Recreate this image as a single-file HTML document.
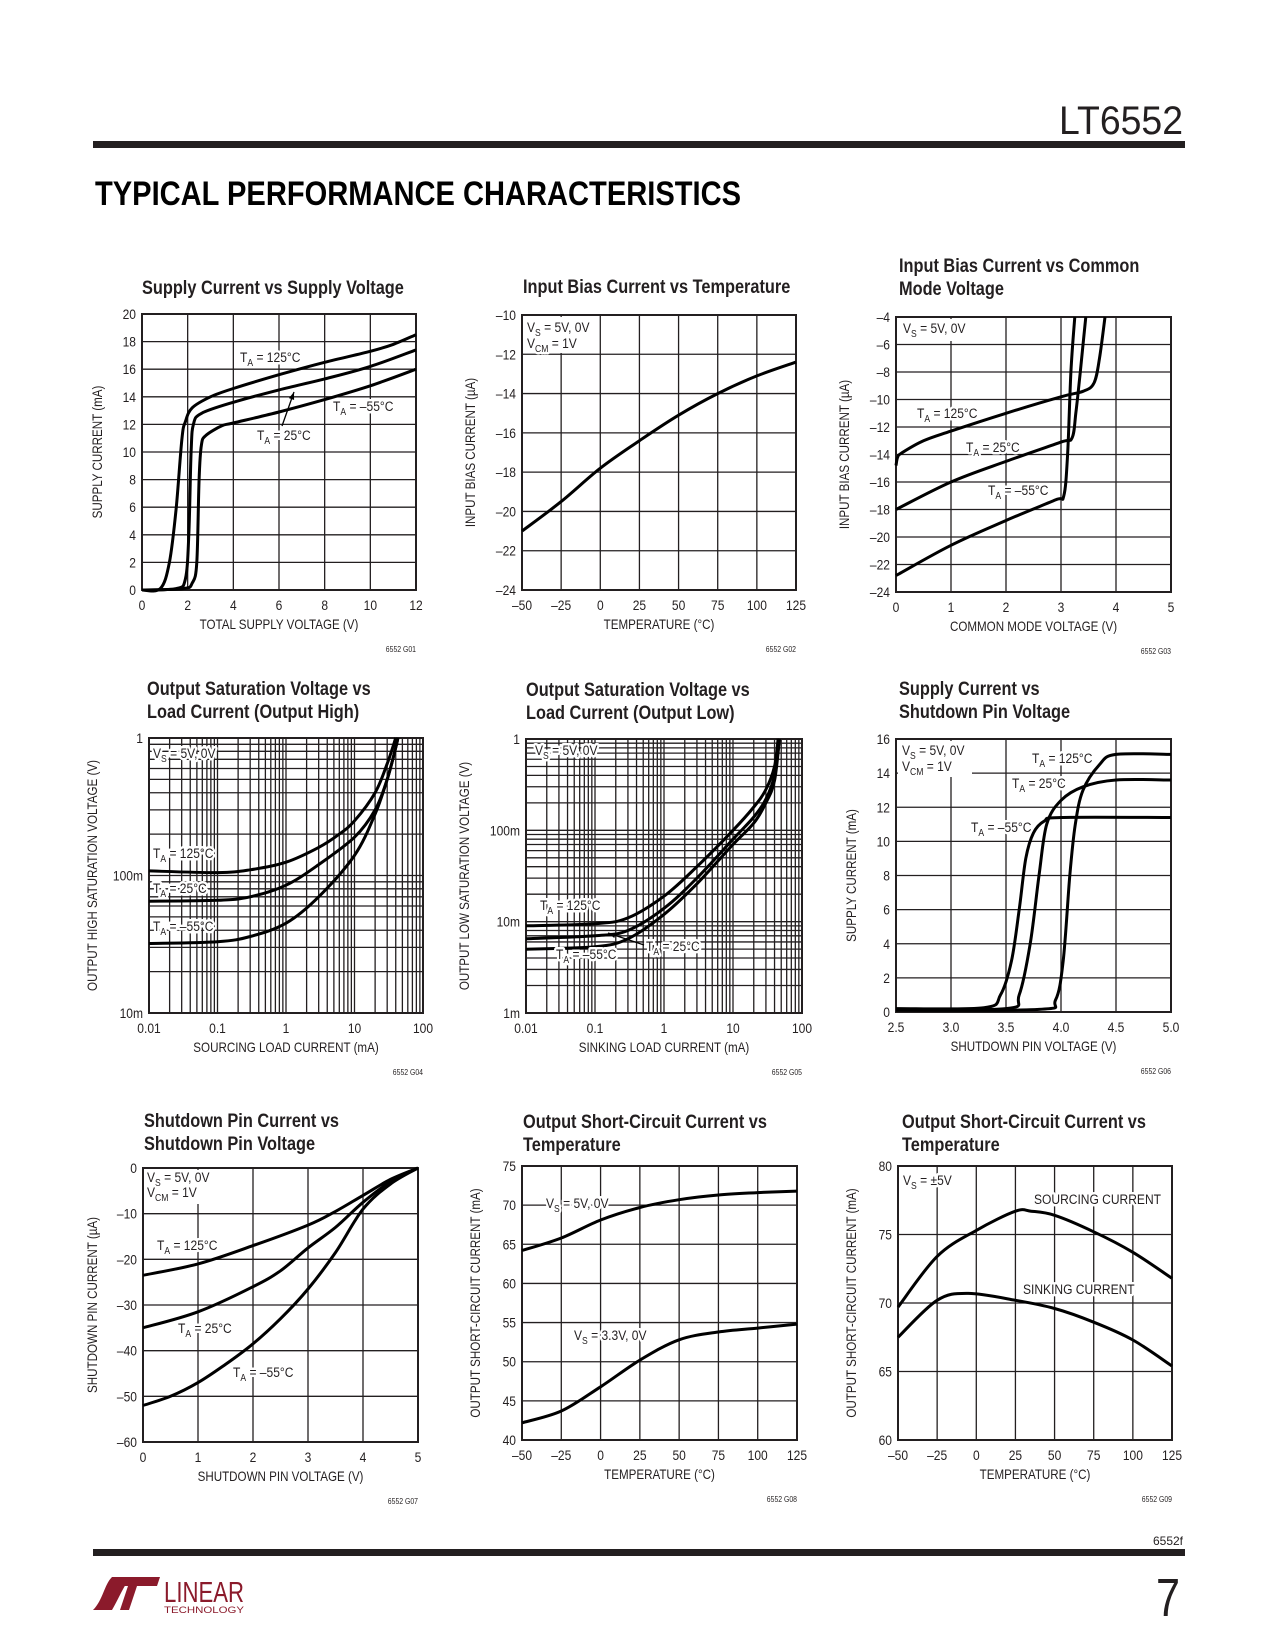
<!DOCTYPE html>
<html><head><meta charset="utf-8"><title>LT6552 Typical Performance Characteristics</title>
<style>
html,body{margin:0;padding:0;background:#fff;}
svg{display:block;font-family:"Liberation Sans Narrow","Liberation Sans",sans-serif;}
.tick{font-size:14px;fill:#231f20;}
.atitle{font-size:13.5px;fill:#231f20;}
.ctitle{font-size:19px;font-weight:bold;fill:#231f20;}
.lbl{font-size:14px;fill:#231f20;stroke:#fff;stroke-width:5px;paint-order:stroke;stroke-linejoin:round;}
.code{font-size:8px;fill:#231f20;}
</style></head>
<body>
<svg id="page" width="1275" height="1650" viewBox="0 0 1275 1650" xmlns="http://www.w3.org/2000/svg">
<text x="1183" y="134" text-anchor="end" font-size="40" fill="#231f20" textLength="124" lengthAdjust="spacingAndGlyphs">LT6552</text>
<rect x="93" y="141" width="1092" height="7" fill="#231f20"/>
<text x="95" y="205" font-size="34" font-weight="bold" fill="#000" textLength="646" lengthAdjust="spacingAndGlyphs">TYPICAL PERFORMANCE CHARACTERISTICS</text>
<text x="1183" y="1545" text-anchor="end" font-size="12" fill="#231f20">6552f</text>
<rect x="93" y="1549" width="1092" height="7" fill="#231f20"/>
<g>
<path d="M93,1610 C103,1600 104,1585 112,1577 L131,1577 C124,1585 118,1600 112,1610 Z" fill="#8b1a2b"/>
<path d="M120,1610 L128,1586 L123,1586 L126,1577 L160,1577 L157,1586 L137,1586 L129,1610 Z" fill="#8b1a2b"/>
<text x="164" y="1602" font-size="29" fill="#8b1a2b" textLength="80" lengthAdjust="spacingAndGlyphs">LINEAR</text>
<text x="164" y="1613" font-size="9" fill="#8b1a2b" textLength="80" lengthAdjust="spacingAndGlyphs">TECHNOLOGY</text>
</g>
<text x="1180" y="1616" text-anchor="end" font-size="54" fill="#231f20" transform="translate(1180,1616) scale(0.8,1) translate(-1180,-1616)">7</text>
<g id="charts"></g>
</svg>
<script>
// ---------- Chart 1: Supply current vs supply voltage ----------
const c1_xTicks=[0,2,4,6,8,10,12];
const c1_yTicks=[0,2,4,6,8,10,12,14,16,18,20];
const c1_x125=[0,0.8,1.2,1.5,1.75,1.9,2.2,3,4,6,8,10,11,12];
const c1_y125=[0,0.1,2,6,11,12.2,13.2,14,14.6,15.6,16.5,17.3,17.8,18.5];
const c1_x25=[0,1.5,1.9,2.05,2.15,2.25,2.6,4,6,8,10,12];
const c1_y25=[0,0.1,0.8,4,10,12,12.8,13.6,14.5,15.3,16.2,17.4];
const c1_xm55=[0,1.8,2.2,2.4,2.5,2.6,2.8,3.5,4,6,8,10,12];
const c1_ym55=[0,0.1,0.5,2,8,10.5,11.2,11.9,12.1,12.9,13.8,14.8,16];
// ---------- Chart 2: Input bias current vs temperature ----------
const c2_xTicks=[-50,-25,0,25,50,75,100,125];
const c2_yTicks=[-24,-22,-20,-18,-16,-14,-12,-10];
const c2_x=[-50,-25,0,25,50,75,100,125];
const c2_y=[-21,-19.5,-17.8,-16.4,-15.1,-14,-13.1,-12.4];
// ---------- Chart 3: Input bias vs common mode ----------
const c3_xTicks=[0,1,2,3,4,5];
const c3_yTicks=[-24,-22,-20,-18,-16,-14,-12,-10,-8,-6,-4];
const c3_x125=[0,0.03,0.1,0.5,1,2,3,3.4,3.6,3.7,3.8];
const c3_y125=[-14.8,-14.2,-13.9,-13,-12.3,-11,-9.8,-9.4,-8.8,-7,-4];
const c3_x25=[0,1,2,3,3.2,3.27,3.35,3.45];
const c3_y25=[-18,-16,-14.5,-13.1,-12.8,-11,-8,-4];
const c3_xm55=[0,1,2,2.9,3.05,3.12,3.18,3.25];
const c3_ym55=[-22.8,-20.6,-18.8,-17.3,-17,-14,-8,-4];
// ---------- Chart 4: Output high saturation ----------
const c4_xTicks=[0.01,0.1,1,10,100];
const c4_xTickLabels=["0.01","0.1","1","10","100"];
const c4_yTicks=[0.01,0.1,1];
const c4_yTickLabels=["10m","100m","1"];
const c4_x125=[0.01,0.1,0.3,1,3,6,10,20,30,40];
const c4_y125=[0.108,0.105,0.11,0.125,0.16,0.2,0.25,0.4,0.65,1];
const c4_x25=[0.01,0.1,0.3,1,3,10,20,30,40,43];
const c4_y25=[0.065,0.066,0.07,0.085,0.12,0.19,0.3,0.5,0.85,1];
const c4_xm55=[0.01,0.1,0.3,1,3,10,20,30,40,43];
const c4_ym55=[0.032,0.033,0.036,0.045,0.07,0.14,0.28,0.5,0.85,1];
// ---------- Chart 5: Output low saturation ----------
const c5_xTicks=[0.01,0.1,1,10,100];
const c5_xTickLabels=["0.01","0.1","1","10","100"];
const c5_yTicks=[0.001,0.01,0.1,1];
const c5_yTickLabels=["1m","10m","100m","1"];
const c5_x125=[0.01,0.1,0.3,1,3,10,20,30,40,45];
const c5_y125=[0.009,0.0095,0.011,0.019,0.04,0.1,0.18,0.28,0.5,1];
const c5_x25=[0.01,0.1,0.3,1,3,10,20,30,40,47];
const c5_y25=[0.0065,0.007,0.008,0.014,0.03,0.08,0.14,0.22,0.4,1];
const c5_xm55=[0.01,0.1,0.3,1,3,10,20,30,40,47];
const c5_ym55=[0.005,0.0053,0.0065,0.012,0.026,0.07,0.12,0.2,0.35,1];
// ---------- Chart 6: Supply current vs shutdown pin ----------
const c6_xTicks=[2.5,3.0,3.5,4.0,4.5,5.0];
const c6_xTickLabels=["2.5","3.0","3.5","4.0","4.5","5.0"];
const c6_yTicks=[0,2,4,6,8,10,12,14,16];
const c6_xm55=[2.5,3.3,3.45,3.55,3.62,3.68,3.75,3.85,4,5];
const c6_ym55=[0.2,0.25,1,3,6,9,10.5,11.2,11.4,11.4];
const c6_x25=[2.5,3.5,3.62,3.72,3.8,3.87,4,4.2,4.5,5];
const c6_y25=[0.15,0.2,1,4,8,11,12.4,13.2,13.6,13.6];
const c6_x125=[2.5,3.8,3.95,4.02,4.08,4.13,4.2,4.35,4.5,5];
const c6_y125=[0.1,0.15,0.7,3,8,11,13,14.5,15.1,15.1];
// ---------- Chart 7: Shutdown pin current ----------
const c7_xTicks=[0,1,2,3,4,5];
const c7_yTicks=[-60,-50,-40,-30,-20,-10,0];
const c7_x125=[0,1,2,3,3.5,4,4.5,5];
const c7_y125=[-23.5,-21,-17,-12.5,-9.5,-6,-2.5,0];
const c7_x25=[0,1,2,2.5,3,3.5,4,4.5,5];
const c7_y25=[-35,-31.5,-26,-22.5,-17.5,-13,-7.5,-3,0];
const c7_xm55=[0,0.5,1,1.5,2,2.5,3,3.5,4,4.5,5];
const c7_ym55=[-52,-50,-47,-43,-38.5,-33,-26.5,-18.5,-9,-3.5,0];
// ---------- Chart 8: Short-circuit current vs temp ----------
const c8_xTicks=[-50,-25,0,25,50,75,100,125];
const c8_yTicks=[40,45,50,55,60,65,70,75];
const c8_x=[-50,-25,0,25,50,75,100,125];
const c8_y5=[64.2,65.8,68.1,69.7,70.7,71.3,71.6,71.8];
const c8_y33=[42.2,43.7,46.8,50.2,52.8,53.8,54.3,54.8];
// ---------- Chart 9: Short-circuit current ±5V ----------
const c9_xTicks=[-50,-25,0,25,50,75,100,125];
const c9_yTicks=[60,65,70,75,80];
const c9_xSrc=[-50,-25,0,25,35,50,75,100,125];
const c9_ySrc=[69.7,73.4,75.3,76.7,76.7,76.4,75.2,73.7,71.8];
const c9_xSnk=[-50,-25,-5,25,50,75,100,125];
const c9_ySnk=[67.5,70.2,70.7,70.2,69.6,68.6,67.3,65.4];

const NS='http://www.w3.org/2000/svg';
const SQ=0.86; // horizontal condensing to mimic a narrow font
const root=document.getElementById('charts');
function mk(tag,parent,attrs){const e=document.createElementNS(NS,tag);for(const k in attrs)e.setAttribute(k,attrs[k]);parent.appendChild(e);return e;}
function txt(parent,x,y,cls,anchor,rot){
  const t=mk('text',parent,{x:0,y:0,'class':cls});
  if(anchor)t.setAttribute('text-anchor',anchor);
  t.setAttribute('transform','translate('+x+','+y+')'+(rot?' rotate(-90)':'')+' scale('+SQ+',1)');
  return t;
}
function richText(parent,x,y,parts,cls){
  const t=txt(parent,x,y,cls);
  parts.forEach(p=>{const s=mk('tspan',t,{});s.textContent=p[0];
    if(p[1]==='sub'){s.setAttribute('dy','4');s.setAttribute('font-size','10');}
    if(p[1]==='up'){s.setAttribute('dy','-4');}});
  return t;
}
function catmull(pts){
  let d='M'+pts[0][0].toFixed(1)+','+pts[0][1].toFixed(1);
  for(let i=0;i<pts.length-1;i++){
    const p0=pts[i-1]||pts[i],p1=pts[i],p2=pts[i+1],p3=pts[i+2]||p2;
    const c1=[p1[0]+(p2[0]-p0[0])/6,p1[1]+(p2[1]-p0[1])/6];
    const c2=[p2[0]-(p3[0]-p1[0])/6,p2[1]-(p3[1]-p1[1])/6];
    d+=' C'+c1[0].toFixed(1)+','+c1[1].toFixed(1)+' '+c2[0].toFixed(1)+','+c2[1].toFixed(1)+' '+p2[0].toFixed(1)+','+p2[1].toFixed(1);
  }
  return d;
}
function drawChart(c){
  const g=mk('g',root,{});
  
  
  const [L,T,R,B]=c.box;
  const xd=c.xd,yd=c.yd;
  const sx=v=>c.xlog?L+(Math.log10(v)-Math.log10(xd[0]))/(Math.log10(xd[1])-Math.log10(xd[0]))*(R-L):L+(v-xd[0])/(xd[1]-xd[0])*(R-L);
  const sy=v=>c.ylog?B-(Math.log10(v)-Math.log10(yd[0]))/(Math.log10(yd[1])-Math.log10(yd[0]))*(B-T):B-(v-yd[0])/(yd[1]-yd[0])*(B-T);
  c.title.forEach((s,i)=>{const t=txt(g,c.tx,c.ty+i*23,'ctitle');t.textContent=s;
    
    });
  const grid=mk('g',g,{stroke:'#231f20','stroke-width':1.3});
  
  
  function gridVals(ticks,log){
    if(!log)return ticks;const out=[];
    for(let i=0;i<ticks.length-1;i++)for(let m=1;m<10;m++)out.push(ticks[i]*m);
    out.push(ticks[ticks.length-1]);return out;
  }
  gridVals(c.xTicks,c.xlog).forEach(v=>{const x=sx(v);mk('line',grid,{x1:x,x2:x,y1:T,y2:B});});
  gridVals(c.yTicks,c.ylog).forEach(v=>{const y=sy(v);mk('line',grid,{x1:L,x2:R,y1:y,y2:y});});
  (c.bgs||[]).forEach(b=>{mk('rect',g,{x:L+b[0],y:T+b[1],width:b[2],height:b[3],fill:'#fff'});});
  mk('rect',g,{x:L,y:T,width:R-L,height:B-T,fill:'none',stroke:'#231f20','stroke-width':2});
  c.xTicks.forEach((v,i)=>{const t=txt(g,sx(v),B+20,'tick','middle');
    t.textContent=c.xLabels?c.xLabels[i]:(v<0?'\u2013'+(-v):String(v));
    
    });
  c.yTicks.forEach((v,i)=>{const t=txt(g,L-6,sy(v)+5,'tick','end');
    t.textContent=c.yLabels?c.yLabels[i]:(v<0?'\u2013'+(-v):String(v));
    
    });
  const xt=txt(g,(L+R)/2,B+39,'atitle','middle');
  xt.textContent=c.xTitle;
  
  
  const yt=txt(g,L-c.yOff,(T+B)/2,'atitle','middle',true);
  yt.textContent=c.yTitle;
  
  
  const cd=txt(g,R,B+62,'code','end');
  cd.textContent=c.code;
  
  
  c.series.forEach(s=>{
    const pts=s.xs.map((x,i)=>[sx(x),sy(s.ys[i])]);
    const p=mk('path',g,{d:catmull(pts),fill:'none',stroke:'#000','stroke-width':3,'stroke-linejoin':'round'});
    
    
  });
  (c.arrows||[]).forEach(a=>{
    const l=mk('line',g,{x1:L+a[0],y1:T+a[1],x2:L+a[2],y2:T+a[3],stroke:'#000','stroke-width':1.3});
    
    
    const ang=Math.atan2(a[3]-a[1],a[2]-a[0]),ex=L+a[2],ey=T+a[3];
    const h=mk('path',g,{d:'M'+ex+','+ey+' L'+(ex-8*Math.cos(ang-0.35))+','+(ey-8*Math.sin(ang-0.35))+' L'+(ex-8*Math.cos(ang+0.35))+','+(ey-8*Math.sin(ang+0.35))+'Z',fill:'#000'});
    
    
  });
  (c.labels||[]).forEach(lb=>{
    const t=richText(g,L+lb[0],T+lb[1],lb[2],'lbl');
    
    
  });
}
const TA=(v)=>[['T'],['A','sub'],[' = '+v,'up']];
const VS=(v)=>[['V'],['S','sub'],[' = '+v,'up']];
const VCM=[['V'],['CM','sub'],[' = 1V','up']];

drawChart({name:'chart-supply-current-vs-supply-voltage',box:[142,314,416,590],xd:[0,12],yd:[0,20],xTicks:c1_xTicks,yTicks:c1_yTicks,
  title:['Supply Current vs Supply Voltage'],tx:142,ty:294,xTitle:'TOTAL SUPPLY VOLTAGE (V)',yTitle:'SUPPLY CURRENT (mA)',yOff:40,code:'6552 G01',
  series:[{name:'curve-125c',xs:c1_x125,ys:c1_y125},{name:'curve-25c',xs:c1_x25,ys:c1_y25},{name:'curve-minus55c',xs:c1_xm55,ys:c1_ym55}],
  labels:[[98,48,TA('125°C')],[115,126,TA('25°C')],[191,97,TA('\u201355°C')]],arrows:[[140,112,152,78]]});
drawChart({name:'chart-input-bias-vs-temperature',box:[522,315,796,590],xd:[-50,125],yd:[-24,-10],xTicks:c2_xTicks,yTicks:c2_yTicks,
  title:['Input Bias Current vs Temperature'],tx:523,ty:293,xTitle:'TEMPERATURE (°C)',yTitle:'INPUT BIAS CURRENT (\u00b5A)',yOff:47,code:'6552 G02',
  series:[{name:'curve-input-bias',xs:c2_x,ys:c2_y}],bgs:[[2,2,72,36]],
  labels:[[5,17,VS('5V, 0V')],[5,33,VCM]]});
drawChart({name:'chart-input-bias-vs-common-mode',box:[896,317,1171,592],xd:[0,5],yd:[-24,-4],xTicks:c3_xTicks,yTicks:c3_yTicks,
  title:['Input Bias Current vs Common','Mode Voltage'],tx:899,ty:272,xTitle:'COMMON MODE VOLTAGE (V)',yTitle:'INPUT BIAS CURRENT (\u00b5A)',yOff:47,code:'6552 G03',
  series:[{name:'curve-125c',xs:c3_x125,ys:c3_y125},{name:'curve-25c',xs:c3_x25,ys:c3_y25},{name:'curve-minus55c',xs:c3_xm55,ys:c3_ym55}],
  bgs:[[2,2,70,22]],labels:[[7,16,VS('5V, 0V')],[21,101,TA('125°C')],[70,135,TA('25°C')],[92,178,TA('\u201355°C')]]});
drawChart({name:'chart-output-high-saturation',box:[149,738,423,1013],xd:[0.01,100],yd:[0.01,1],xlog:true,ylog:true,xTicks:c4_xTicks,xLabels:c4_xTickLabels,yTicks:c4_yTicks,yLabels:c4_yTickLabels,
  title:['Output Saturation Voltage vs','Load Current (Output High)'],tx:147,ty:695,xTitle:'SOURCING LOAD CURRENT (mA)',yTitle:'OUTPUT HIGH SATURATION VOLTAGE (V)',yOff:52,code:'6552 G04',
  series:[{name:'curve-125c',xs:c4_x125,ys:c4_y125},{name:'curve-25c',xs:c4_x25,ys:c4_y25},{name:'curve-minus55c',xs:c4_xm55,ys:c4_ym55}],
  labels:[[4,20,VS('5V, 0V')],[4,120,TA('125°C')],[4,155,TA('25°C')],[4,193,TA('\u201355°C')]]});
drawChart({name:'chart-output-low-saturation',box:[526,739,802,1013],xd:[0.01,100],yd:[0.001,1],xlog:true,ylog:true,xTicks:c5_xTicks,xLabels:c5_xTickLabels,yTicks:c5_yTicks,yLabels:c5_yTickLabels,
  title:['Output Saturation Voltage vs','Load Current (Output Low)'],tx:526,ty:696,xTitle:'SINKING LOAD CURRENT (mA)',yTitle:'OUTPUT LOW SATURATION VOLTAGE (V)',yOff:57,code:'6552 G05',
  series:[{name:'curve-125c',xs:c5_x125,ys:c5_y125},{name:'curve-25c',xs:c5_x25,ys:c5_y25},{name:'curve-minus55c',xs:c5_xm55,ys:c5_ym55}],
  labels:[[9,16,VS('5V, 0V')],[14,171,TA('125°C')],[120,212,TA('25°C')],[30,220,TA('\u201355°C')]],arrows:[[118,206,82,194]]});
drawChart({name:'chart-supply-current-vs-shutdown-voltage',box:[896,739,1171,1012],xd:[2.5,5],yd:[0,16],xTicks:c6_xTicks,xLabels:c6_xTickLabels,yTicks:c6_yTicks,
  title:['Supply Current vs','Shutdown Pin Voltage'],tx:899,ty:695,xTitle:'SHUTDOWN PIN VOLTAGE (V)',yTitle:'SUPPLY CURRENT (mA)',yOff:40,code:'6552 G06',
  series:[{name:'curve-minus55c',xs:c6_xm55,ys:c6_ym55},{name:'curve-25c',xs:c6_x25,ys:c6_y25},{name:'curve-125c',xs:c6_x125,ys:c6_y125}],
  bgs:[[2,2,74,36]],labels:[[6,16,VS('5V, 0V')],[6,32,VCM],[136,24,TA('125°C')],[116,49,TA('25°C')],[75,93,TA('\u201355°C')]]});
drawChart({name:'chart-shutdown-pin-current',box:[143,1168,418,1442],xd:[0,5],yd:[-60,0],xTicks:c7_xTicks,yTicks:c7_yTicks,
  title:['Shutdown Pin Current vs','Shutdown Pin Voltage'],tx:144,ty:1127,xTitle:'SHUTDOWN PIN VOLTAGE (V)',yTitle:'SHUTDOWN PIN CURRENT (\u00b5A)',yOff:46,code:'6552 G07',
  series:[{name:'curve-125c',xs:c7_x125,ys:c7_y125},{name:'curve-25c',xs:c7_x25,ys:c7_y25},{name:'curve-minus55c',xs:c7_xm55,ys:c7_ym55}],
  bgs:[[2,2,70,34]],labels:[[4,14,VS('5V, 0V')],[4,29,VCM],[14,82,TA('125°C')],[35,165,TA('25°C')],[90,209,TA('\u201355°C')]]});
drawChart({name:'chart-short-circuit-vs-temperature',box:[522,1166,797,1440],xd:[-50,125],yd:[40,75],xTicks:c8_xTicks,yTicks:c8_yTicks,
  title:['Output Short-Circuit Current vs','Temperature'],tx:523,ty:1128,xTitle:'TEMPERATURE (°C)',yTitle:'OUTPUT SHORT-CIRCUIT CURRENT (mA)',yOff:42,code:'6552 G08',
  series:[{name:'curve-vs-5v',xs:c8_x,ys:c8_y5},{name:'curve-vs-3v3',xs:c8_x,ys:c8_y33}],
  labels:[[24,42,VS('5V, 0V')],[52,174,VS('3.3V, 0V')]]});
drawChart({name:'chart-short-circuit-dual-supply',box:[898,1166,1172,1440],xd:[-50,125],yd:[60,80],xTicks:c9_xTicks,yTicks:c9_yTicks,
  title:['Output Short-Circuit Current vs','Temperature'],tx:902,ty:1128,xTitle:'TEMPERATURE (°C)',yTitle:'OUTPUT SHORT-CIRCUIT CURRENT (mA)',yOff:42,code:'6552 G09',
  series:[{name:'curve-sourcing',xs:c9_xSrc,ys:c9_ySrc},{name:'curve-sinking',xs:c9_xSnk,ys:c9_ySnk}],
  labels:[[5,19,VS('\u00b15V')],[136,38,[['SOURCING CURRENT']]],[125,128,[['SINKING CURRENT']]]]});
</script>
</body></html>
